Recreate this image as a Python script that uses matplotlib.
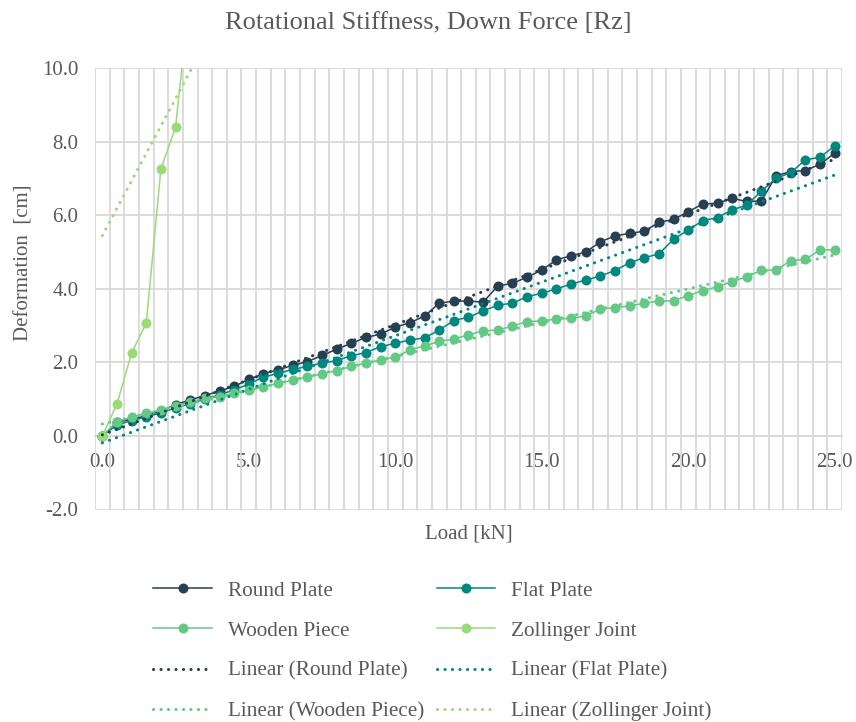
import numpy as np
import matplotlib.pyplot as plt

plt.rcParams['font.family'] = ['Liberation Serif', 'DejaVu Serif']

loads = [0.0, 0.5, 1.0, 1.5, 2.0, 2.5, 3.0, 3.5, 4.0, 4.5,
         5.0, 5.5, 6.0, 6.5, 7.0, 7.5, 8.0, 8.5, 9.0, 9.5,
         10.0, 10.5, 11.0, 11.5, 12.0, 12.5, 13.0, 13.5, 14.0, 14.5,
         15.0, 15.5, 16.0, 16.5, 17.0, 17.5, 18.0, 18.5, 19.0, 19.5,
         20.0, 20.5, 21.0, 21.5, 22.0, 22.5, 23.0, 23.5, 24.0, 24.5, 25.0]

round_plate = [0.0, 0.38, 0.45, 0.55, 0.68, 0.85, 0.98, 1.10, 1.22, 1.35,
               1.54, 1.69, 1.80, 1.92, 2.02, 2.19, 2.36, 2.52, 2.68, 2.77,
               2.96, 3.08, 3.26, 3.61, 3.67, 3.67, 3.64, 4.08, 4.15, 4.32,
               4.51, 4.79, 4.90, 5.00, 5.28, 5.44, 5.51, 5.57, 5.81, 5.89,
               6.10, 6.31, 6.33, 6.46, 6.38, 6.39, 7.08, 7.19, 7.22, 7.39, 7.69]

flat_plate = [0.0, 0.30, 0.42, 0.52, 0.63, 0.76, 0.88, 1.00, 1.12, 1.25,
              1.41, 1.60, 1.70, 1.81, 1.89, 1.98, 2.05, 2.18, 2.27, 2.43,
              2.52, 2.61, 2.67, 2.88, 3.14, 3.23, 3.40, 3.56, 3.61, 3.79,
              3.88, 4.00, 4.13, 4.24, 4.35, 4.50, 4.71, 4.85, 4.95, 5.35,
              5.60, 5.86, 5.94, 6.15, 6.28, 6.66, 7.01, 7.16, 7.51, 7.58, 7.89]

wooden_piece = [0.0, 0.39, 0.51, 0.62, 0.71, 0.82, 0.93, 1.02, 1.07, 1.16,
                1.25, 1.34, 1.43, 1.52, 1.60, 1.69, 1.78, 1.89, 1.98, 2.07,
                2.14, 2.34, 2.45, 2.57, 2.64, 2.75, 2.86, 2.88, 2.99, 3.11,
                3.13, 3.18, 3.20, 3.26, 3.45, 3.49, 3.54, 3.61, 3.67, 3.68,
                3.82, 3.95, 4.06, 4.20, 4.33, 4.51, 4.51, 4.77, 4.80, 5.06, 5.06]

# only the first points are inside the chart, the rest runs off the top
zollinger = [0.0, 0.87, 2.26, 3.07, 7.26, 8.40, 12.1]
# its trendline: value at 0 kN and slope per kN
zoll_trend_start = 5.45
zoll_trend_slope = 1.49

names = ['Round Plate', 'Flat Plate', 'Wooden Piece', 'Zollinger Joint']
colors = ['#263f52', '#00877f', '#63c985', '#9adb78']
grid_col = '#d9d9d9'
text_col = '#595959'

fig = plt.figure(figsize=(8.56, 7.22), dpi=100)
ax = fig.add_axes([95/856, 1-509.5/722, (842-95)/856, (509.5-68.3)/722])

idx = np.arange(len(loads))
series = [round_plate, flat_plate, wooden_piece, zollinger]

handles = {}
for name, vals, col in zip(names, series, colors):
    x = idx[:len(vals)]
    h, = ax.plot(x, vals, color=col, lw=1.1, marker='o', markersize=7.2,
                 markeredgewidth=0, zorder=3, label=name)
    handles[name] = h

dots = (0, (0.05, 2.4))
for name, vals, col in zip(names[:3], series[:3], colors[:3]):
    k, b = np.polyfit(idx, vals, 1)
    h, = ax.plot(idx, k*idx + b, color=col, lw=2.2, linestyle=dots,
                 dash_capstyle='round', zorder=4, label='Linear (%s)' % name)
    handles['Linear ' + name] = h

step = loads[1] - loads[0]
h, = ax.plot(idx, zoll_trend_start + zoll_trend_slope*step*idx, color=colors[3],
             lw=2.2, linestyle=dots, dash_capstyle='round', zorder=4,
             label='Linear (Zollinger Joint)')
handles['Linear Zollinger Joint'] = h

ax.set_xlim(-0.5, len(loads) - 0.5)
ax.set_ylim(-2, 10)

ax.set_xticks(idx[::10])
ax.set_xticklabels(['%.1f' % loads[i] for i in idx[::10]])
ax.set_xticks(np.arange(-0.5, len(loads), 1), minor=True)
ax.set_yticks(np.arange(-2, 10.1, 2))
ax.set_yticklabels(['%.1f' % v for v in np.arange(-2, 10.1, 2)])

ax.grid(False)
ax.grid(which='minor', axis='x', color=grid_col, lw=1.3, zorder=0)
ax.grid(which='major', axis='y', color=grid_col, lw=1.3, zorder=0)
ax.set_axisbelow(True)

for s in ['top', 'right', 'left']:
    ax.spines[s].set_visible(False)
ax.spines['bottom'].set_position(('data', 0))
ax.spines['bottom'].set_color(grid_col)
ax.spines['bottom'].set_linewidth(1.3)

ax.tick_params(axis='both', which='both', length=0, labelsize=15, labelcolor=text_col)
ax.tick_params(axis='x', pad=12)
ax.tick_params(axis='y', pad=12)

ax.set_xlabel('Load [kN]', fontsize=15, color=text_col)
ax.xaxis.set_label_coords(0.5, -0.035)
ax.set_ylabel('Deformation  [cm]', fontsize=15, color=text_col)
ax.yaxis.set_label_coords(-0.082, 0.56)

fig.text(0.5, 1-23/722, 'Rotational Stiffness, Down Force [Rz]', ha='center',
         va='center', fontsize=19, color=text_col)

order = ['Round Plate', 'Wooden Piece', 'Linear Round Plate', 'Linear Wooden Piece',
         'Flat Plate', 'Zollinger Joint', 'Linear Flat Plate', 'Linear Zollinger Joint']
leg = fig.legend([handles[o] for o in order], [handles[o].get_label() for o in order],
                 loc='center', bbox_to_anchor=(432.5/856, 1-651/722), ncol=2,
                 frameon=False, fontsize=15.3, handlelength=2.75, handletextpad=0.75,
                 columnspacing=0.6, labelspacing=0.95, labelcolor=text_col)

fig.savefig('out.png', dpi=100)
